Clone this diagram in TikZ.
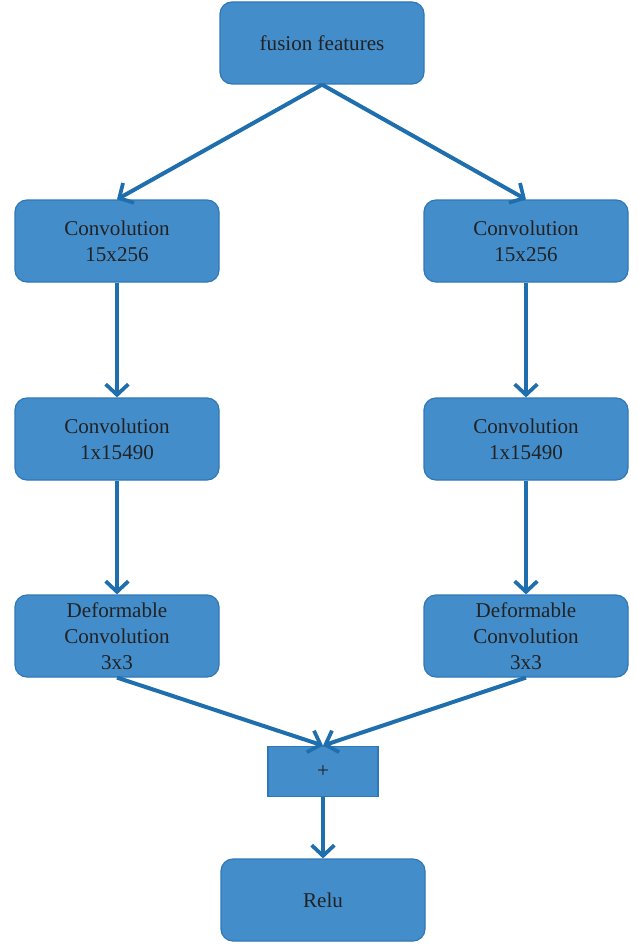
\documentclass[tikz,border=0pt]{standalone}
\usepackage{fontspec}
\setmainfont{Liberation Serif}
\usetikzlibrary{arrows.meta}
\definecolor{box-blue}{HTML}{448DCB}
\definecolor{edge-blue}{HTML}{2F78B8}
\definecolor{arrow-blue}{HTML}{1F6EAE}
\definecolor{text-dark}{HTML}{222222}

\begin{document}
\begin{tikzpicture}[x=0.75pt, y=-0.75pt,
      every node/.style={font=\fontsize{15.8}{19.5}\selectfont, text=text-dark},
      block/.style={draw=edge-blue, line width=0.9pt, fill=box-blue, rounded corners=9pt,
          minimum width=153pt, minimum height=61.5pt, align=center},
      flow/.style={draw=arrow-blue, line width=3pt,
          -{Straight Barb[length=8pt, width=17pt, line width=2.8pt]}}]
    \useasboundingbox (0,0) rectangle (637,945);
    \node[block] (FUS) at (322,43) {fusion features};
    \node[block] (LC1) at (117,241) {Convolution\\15x256};
    \node[block] (RC1) at (526,241) {Convolution\\15x256};
    \node[block] (LC2) at (117,439) {Convolution\\1x15490};
    \node[block] (RC2) at (526,439) {Convolution\\1x15490};
    \node[block] (LDC) at (117,636) {Deformable\\Convolution\\3x3};
    \node[block] (RDC) at (526,636) {Deformable\\Convolution\\3x3};
    \node[draw=edge-blue, line width=0.9pt, fill=box-blue,
          minimum width=82.5pt, minimum height=38pt]
          (ADD) at (323,771.5) {+};
    \node[block] (RELU) at (323,900) {Relu};
    \draw[flow] (FUS.south) -- (LC1.north);
    \draw[flow] (FUS.south) -- (RC1.north);
    \draw[flow] (LC1.south) -- (LC2.north);
    \draw[flow] (RC1.south) -- (RC2.north);
    \draw[flow] (LC2.south) -- (LDC.north);
    \draw[flow] (RC2.south) -- (RDC.north);
    \draw[flow] (LDC.south) -- (ADD.north);
    \draw[flow] (RDC.south) -- (ADD.north);
    \draw[flow] (ADD.south) -- (RELU.north);
  \end{tikzpicture}
\end{document}
